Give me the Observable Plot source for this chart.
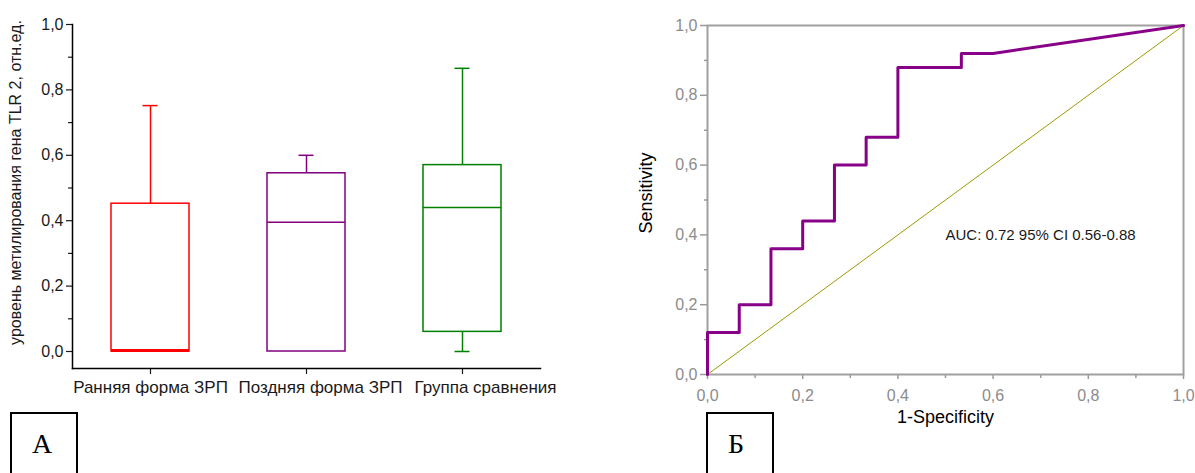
<!DOCTYPE html>
<html>
<head>
<meta charset="utf-8">
<script src="https://cdn.jsdelivr.net/npm/d3@7"></script>
<script src="https://cdn.jsdelivr.net/npm/@observablehq/plot@0.6"></script>
<style>
  html, body { margin: 0; padding: 0; background: #fff; }
  #wrap { position: relative; width: 1195px; height: 473px; overflow: hidden; background: #fff; }
  #left, #right { position: absolute; top: 0; }
  #left { left: 0; }
  #right { left: 600px; }
  .panel-label { position: absolute; top: 412px; width: 68px; height: 80px; border: 2px solid #000; box-sizing: border-box;
    font-family: "Liberation Serif", "Times New Roman", serif; font-size: 28px; color: #000; padding: 14px 0 0 20px; }
</style>
</head>
<body>
<div id="wrap">
  <div id="left"></div>
  <div id="right"></div>
  <div class="panel-label" style="left:10px">А</div>
  <div class="panel-label" style="left:706px">Б</div>
</div>
<script>
// ---- Panel A: box plot data ----
const groups = ["Ранняя форма ЗРП", "Поздняя форма ЗРП", "Группа сравнения"];
const boxLow = [0, 0, 0.0];
const boxQ1 = [0, 0, 0.06];
const boxMedian = [0.003, 0.395, 0.44];
const boxQ3 = [0.452, 0.545, 0.57];
const boxHigh = [0.752, 0.60, 0.866];
const boxColors = ["#ff0000", "#800080", "#008000"];
const leftTicksMajor = [0, 0.2, 0.4, 0.6, 0.8, 1.0];
const leftTicksMinor = [0.1, 0.3, 0.5, 0.7, 0.9];
const leftYLabel = "уровень метилирования гена TLR 2, отн.ед.";

// ---- Panel B: ROC data ----
const rocFpr = [0, 0, 0.0667, 0.0667, 0.1333, 0.1333, 0.2, 0.2, 0.2667, 0.2667, 0.3333, 0.3333, 0.4, 0.4, 0.5333, 0.5333, 0.6, 1.0];
const rocTpr = [0, 0.12, 0.12, 0.2, 0.2, 0.36, 0.36, 0.44, 0.44, 0.6, 0.6, 0.68, 0.68, 0.88, 0.88, 0.92, 0.92, 1.0];
const diagX = [0, 1];
const diagY = [0, 1];
const rightTicksMajor = [0, 0.2, 0.4, 0.6, 0.8, 1.0];
const rightTicksMinor = [0.1, 0.3, 0.5, 0.7, 0.9];
const aucText = "AUC: 0.72 95% CI 0.56-0.88";
const xTitle = "1-Specificity";
const yTitle = "Sensitivity";

const fmt = d => d3.format(".1f")(d).replace(".", ",");
const font = "'Liberation Sans', Arial, sans-serif";

const boxes = groups.map((g, i) => ({
  g, lo: boxLow[i], q1: boxQ1[i], med: boxMedian[i], q3: boxQ3[i], hi: boxHigh[i], color: boxColors[i],
  medW: i === 0 ? 3 : 1.5
}));

// horizontal label shifts as in the original layout (labels drift right)
const groupLabelShift = [0, 14, 23];

const left = Plot.plot({
  width: 560, height: 410,
  marginLeft: 72, marginRight: 20, marginTop: 24, marginBottom: 42,
  style: { fontFamily: font, fontSize: "16px", color: "#1a1a1a", background: "transparent" },
  x: { domain: groups, padding: 0, axis: null },
  y: { domain: [-0.052, 1], axis: null },
  color: { type: "identity" },
  marks: [
    Plot.axisY({ ticks: leftTicksMajor, tickFormat: fmt, tickSize: 6, tickPadding: 3, label: null, strokeWidth: 1.2 }),
    Plot.axisY({ ticks: leftTicksMinor, tickFormat: () => "", tickSize: 4, label: null, strokeWidth: 1.2 }),
    Plot.axisX({ tickSize: 6, tickFormat: () => "", label: null, strokeWidth: 1.2 }),
    ...groups.map((g, i) => Plot.text([g], { x: d => d, frameAnchor: "bottom", dy: 24, dx: groupLabelShift[i], fontSize: 17, fill: "#1a1a1a" })),
    Plot.frame({ anchor: "left", stroke: "#000", strokeWidth: 1.5 }),
    Plot.frame({ anchor: "bottom", stroke: "#000", strokeWidth: 1.5 }),
    Plot.ruleX(boxes, { x: "g", y1: "q3", y2: "hi", stroke: "color", strokeWidth: 1.5 }),
    Plot.ruleX(boxes.filter(d => d.lo < d.q1), { x: "g", y1: "lo", y2: "q1", stroke: "color", strokeWidth: 1.5 }),
    Plot.tickY(boxes, { x: "g", y: "hi", stroke: "color", strokeWidth: 1.5, insetLeft: 70.5, insetRight: 70.5 }),
    Plot.tickY(boxes.filter(d => d.lo < d.q1), { x: "g", y: "lo", stroke: "color", strokeWidth: 1.5, insetLeft: 70.5, insetRight: 70.5 }),
    Plot.barY(boxes, { x: "g", y1: "q1", y2: "q3", fill: "none", stroke: "color", strokeWidth: 1.5, insetLeft: 39, insetRight: 39 }),
    Plot.tickY(boxes, { x: "g", y: "med", stroke: "color", strokeWidth: "medW", insetLeft: 39, insetRight: 39 }),
    Plot.text([leftYLabel], { frameAnchor: "left", textAnchor: "middle", dx: -57, dy: -14, rotate: -90, fontSize: 16, fill: "#1a1a1a" })
  ]
});
document.getElementById("left").appendChild(left);

const roc = rocFpr.map((x, i) => ({ x, y: rocTpr[i] }));
const diag = diagX.map((x, i) => ({ x, y: diagY[i] }));

const right = Plot.plot({
  width: 595, height: 440,
  marginLeft: 107, marginRight: 12, marginTop: 25, marginBottom: 66,
  style: { fontFamily: font, fontSize: "16px", color: "#8c8c8c", background: "transparent" },
  x: { domain: [0, 1], axis: null },
  y: { domain: [0, 1], axis: null },
  marks: [
    Plot.axisX({ ticks: rightTicksMajor, tickFormat: fmt, tickSize: 5, tickPadding: 10, label: null, stroke: "#9a9a9a", strokeWidth: 1.5 }),
    Plot.axisX({ ticks: rightTicksMinor, tickFormat: () => "", tickSize: 4, label: null, stroke: "#9a9a9a", strokeWidth: 1.5 }),
    Plot.axisY({ ticks: rightTicksMajor, tickFormat: fmt, tickSize: 7, tickPadding: 3, label: null, stroke: "#9a9a9a", strokeWidth: 1.5 }),
    Plot.axisY({ ticks: rightTicksMinor, tickFormat: () => "", tickSize: 3, label: null, stroke: "#9a9a9a", strokeWidth: 1.5 }),
    Plot.frame({ stroke: "#a0a0a0", strokeWidth: 2 }),
    Plot.line(diag, { x: "x", y: "y", stroke: "#9c9a00", strokeWidth: 1 }),
    Plot.line(roc, { x: "x", y: "y", stroke: "#880088", strokeWidth: 3 }),
    Plot.text([aucText], { x: () => 0.5, y: () => 0.4, textAnchor: "start", fontSize: 15, fill: "#1a1a1a" }),
    Plot.text([xTitle], { frameAnchor: "bottom", dy: 48, fontSize: 18, fill: "#000" }),
    Plot.text([yTitle], { frameAnchor: "left", textAnchor: "middle", dx: -61, dy: -7, rotate: -90, fontSize: 18, fill: "#000" })
  ]
});
document.getElementById("right").appendChild(right);
</script>
</body>
</html>
